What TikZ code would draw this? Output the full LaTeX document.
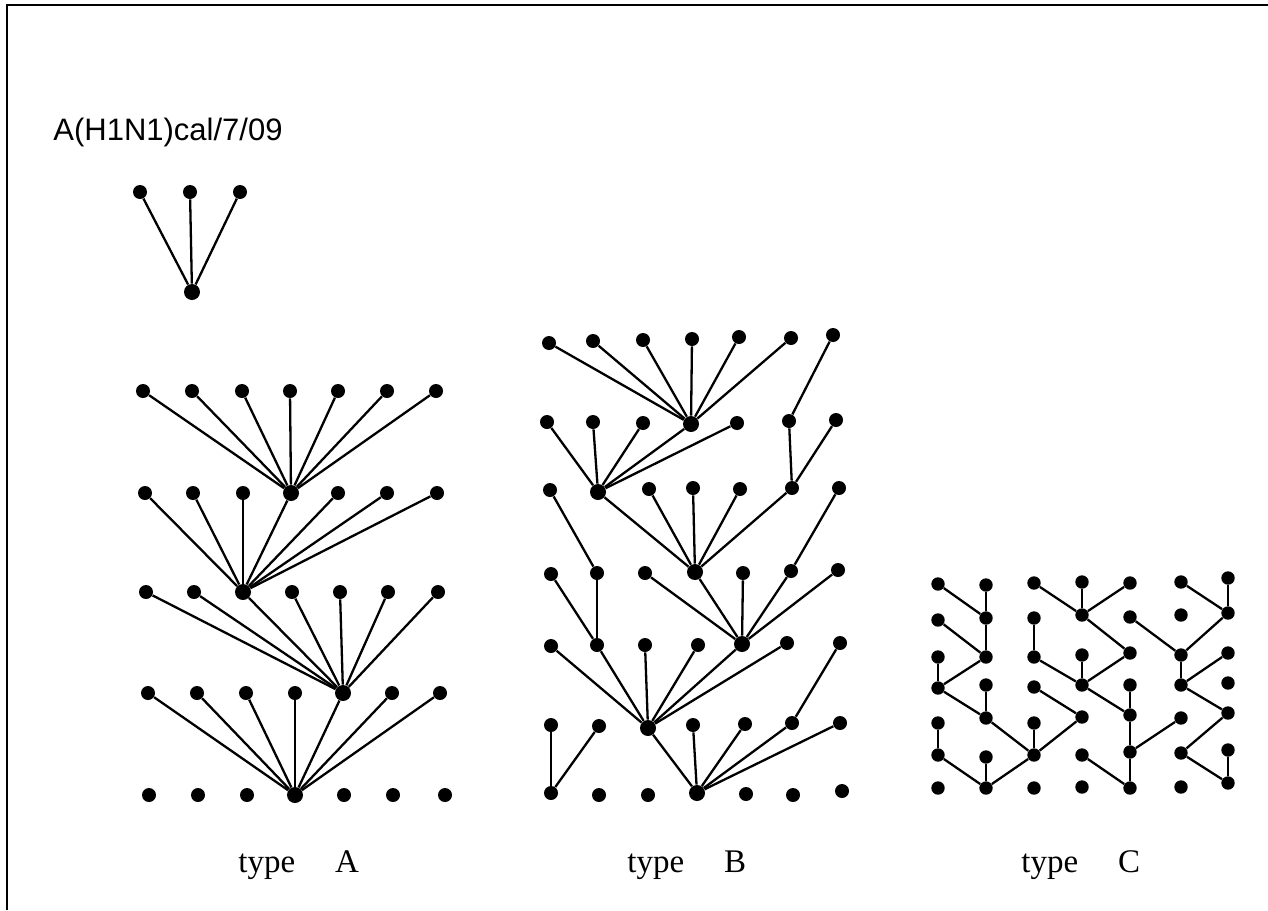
\documentclass[tikz,border=0pt]{standalone}
\usepackage{fontspec}
\setmainfont{Liberation Serif}
\newfontfamily\headfont{Liberation Sans}
\begin{document}
\begin{tikzpicture}[x=0.5pt,y=-0.5pt,
  dot/.style={circle,fill=black,inner sep=0pt,minimum size=7pt},
  hub/.style={dot,minimum size=8pt},
  cdot/.style={dot,minimum size=6.7pt},
  edge/.style={line width=1.15pt,black},
  frame/.style={line width=1.2pt,black},
  caption/.style={anchor=base west,inner sep=0pt,font=\fontsize{16.5}{19}\selectfont}]
\useasboundingbox (0,0) rectangle (1268,910);
\draw[frame] (7,910) -- (7,5) -- (1268,5);

% heading
\node[anchor=base west,inner sep=0pt,font=\headfont\fontsize{15.5}{18}\selectfont] (title) at (53,140) {A(H1N1)cal/7/09};

% small tree under the heading
\foreach \n/\x/\y in {t1/140/192,t2/190/192,t3/240/192}
  \node[dot] (\n) at (\x,\y) {};
\node[hub] (t0) at (192,292) {};
\foreach \s in {t1,t2,t3} \draw[edge] (\s) -- (t0);

% ---------------- type A ----------------
\foreach \n/\x/\y in {
  a11/143/391,a12/192/391,a13/242/391,a14/290/391,a15/338/391,a16/387/391,a17/436/391,
  a21/145/493,a22/193/493,a23/243/493,a25/338/493,a26/387/493,a27/437/493,
  a31/146/592,a32/194/592,a34/292/592,a35/340/592,a36/388/592,a37/438/592,
  a41/148/693,a42/197/693,a43/246/693,a44/295/693,a46/392/693,a47/440/693,
  a51/149/795,a52/198/795,a53/247/795,a55/344/795,a56/393/795,a57/445/795}
  \node[dot] (\n) at (\x,\y) {};
\foreach \n/\x/\y in {a24/291/493,a33/243/592,a45/343/693,a54/295/795}
  \node[hub] (\n) at (\x,\y) {};
\foreach \s in {a11,a12,a13,a14,a15,a16,a17} \draw[edge] (\s) -- (a24);
\foreach \s in {a21,a22,a23,a24,a25,a26,a27} \draw[edge] (\s) -- (a33);
\foreach \s in {a31,a32,a33,a34,a35,a36,a37} \draw[edge] (\s) -- (a45);
\foreach \s in {a41,a42,a43,a44,a45,a46,a47} \draw[edge] (\s) -- (a54);

% ---------------- type B ----------------
\foreach \n/\x/\y in {
  b11/549/343,b12/593/341,b13/643/340,b14/692/339,b15/739/337,b16/791/338,b17/833/335,
  b21/547/422,b22/593/422,b23/643/423,b25/737/423,b26/789/421,b27/836/420,
  b31/550/490,b33/649/489,b34/693/488,b35/740/489,b36/792/488,b37/839/488,
  b41/551/574,b42/597/573,b43/645/573,b45/743/573,b46/791/571,b47/838/570,
  b51/551/646,b52/597/645,b53/645/645,b54/698/645,b56/787/643,b57/840/643,
  b61/551/725,b62/599/726,b64/693/725,b65/745/724,b66/792/723,b67/840/723,
  b71/551/793,b72/599/795,b73/648/795,b75/746/794,b76/793/795,b77/842/791}
  \node[dot] (\n) at (\x,\y) {};
\foreach \n/\x/\y in {b24/691/424,b32/598/492,b44/695/572,b55/742/644,b63/648/728,b74/697/793}
  \node[hub] (\n) at (\x,\y) {};
\foreach \s in {b11,b12,b13,b14,b15,b16} \draw[edge] (\s) -- (b24);
\draw[edge] (b17) -- (b26);
\foreach \s in {b21,b22,b23,b24,b25} \draw[edge] (\s) -- (b32);
\foreach \s in {b26,b27} \draw[edge] (\s) -- (b36);
\draw[edge] (b31) -- (b42);
\foreach \s in {b32,b33,b34,b35,b36} \draw[edge] (\s) -- (b44);
\draw[edge] (b37) -- (b46);
\foreach \s in {b41,b42} \draw[edge] (\s) -- (b52);
\foreach \s in {b43,b44,b45,b46,b47} \draw[edge] (\s) -- (b55);
\foreach \s in {b51,b52,b53,b54,b55,b56} \draw[edge] (\s) -- (b63);
\draw[edge] (b57) -- (b66);
\foreach \s in {b61,b62} \draw[edge] (\s) -- (b71);
\foreach \s in {b63,b64,b65,b66,b67} \draw[edge] (\s) -- (b74);

% ---------------- type C (names: column, row) ----------------
\foreach \n/\x/\y in {
  c11/938/584,c12/938/620,c13/938/657,c14/938/688,c15/938/723,c16/938/755,c17/938/788,
  c21/986/585,c22/986/618,c23/986/657,c24/986/685,c25/986/718,c26/986/757,c27/986/788,
  c31/1034/583,c32/1034/618,c33/1034/657,c34/1034/687,c35/1034/723,c36/1034/755,c37/1034/788,
  c41/1082/582,c42/1082/615,c43/1082/655,c44/1082/685,c45/1082/717,c46/1082/755,c47/1082/787,
  c51/1130/583,c52/1130/617,c53/1130/653,c54/1130/685,c55/1130/715,c56/1130/752,c57/1130/788,
  c61/1181/582,c62/1181/615,c63/1181/655,c64/1181/685,c65/1181/718,c66/1181/753,c67/1181/787,
  c71/1228/578,c72/1228/613,c73/1228/653,c74/1228/683,c75/1228/713,c76/1228/750,c77/1228/783}
  \node[cdot] (\n) at (\x,\y) {};
\foreach \s/\t in {
  c11/c22,c21/c22,c22/c23,c12/c23,c23/c14,c13/c14,c14/c25,c24/c25,
  c25/c36,c35/c36,c45/c36,c36/c27,c26/c27,c16/c27,c15/c16,c34/c45,
  c31/c42,c41/c42,c51/c42,c42/c53,c53/c44,c33/c44,c32/c33,c43/c44,
  c44/c55,c54/c55,c55/c56,c65/c56,c56/c57,c46/c57,
  c61/c72,c71/c72,c72/c63,c52/c63,c63/c64,c73/c64,c64/c75,c75/c66,
  c66/c77,c76/c77}
  \draw[edge] (\s) -- (\t);

% captions
\node[caption] (capA) at (238,872) {type\hspace{20pt}A};
\node[caption] (capB) at (627,872) {type\hspace{20pt}B};
\node[caption] (capC) at (1021,872) {type\hspace{20pt}C};
\end{tikzpicture}
\end{document}
